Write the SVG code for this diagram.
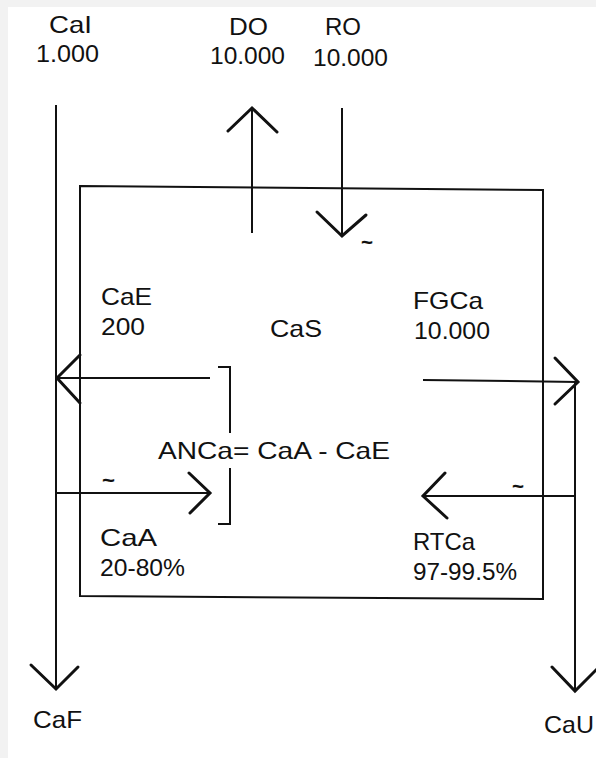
<svg xmlns="http://www.w3.org/2000/svg" width="596" height="758" viewBox="0 0 596 758">
<style>
  .t{font-family:"Liberation Sans","DejaVu Sans",Arial,sans-serif;font-size:24px;fill:#111}
  .ln{stroke:#111;stroke-width:2;fill:none}
  .hd{stroke:#111;stroke-width:3;fill:none;stroke-linecap:round;stroke-linejoin:miter}
  .tl{font-family:"Liberation Sans","DejaVu Sans",Arial,sans-serif;font-size:22px;font-weight:bold;fill:#111}
</style>
<rect x="0" y="0" width="596" height="758" fill="#ffffff"/>
<rect x="0" y="0" width="596" height="7" fill="#f2f2f2"/>
<rect x="0" y="0" width="8" height="758" fill="#f2f2f2"/>

<g id="box">
  <path class="ln" d="M80,186 L543,190 L543,599 L80,596 Z"/>
</g>

<g id="connectors">
  <!-- CaI -> CaF -->
  <line class="ln" x1="56" y1="105" x2="56" y2="689"/>
  <polyline class="hd" points="31,665 56,689 78,667"/>
  <!-- DO up -->
  <line class="ln" x1="252" y1="233" x2="252" y2="108"/>
  <polyline class="hd" points="228,131 252,108 277,132"/>
  <!-- RO down -->
  <line class="ln" x1="342" y1="108" x2="342" y2="236"/>
  <polyline class="hd" points="317,212 342,236 366,215"/>
  <!-- CaE out (left) -->
  <line class="ln" x1="210" y1="378" x2="57" y2="378"/>
  <polyline class="hd" points="80,355 57,378 80,403"/>
  <!-- CaA in (right) -->
  <line class="ln" x1="56" y1="493" x2="210" y2="493"/>
  <polyline class="hd" points="189,473 210,493 190,513"/>
  <!-- FGCa out -->
  <line class="ln" x1="423" y1="380" x2="578" y2="382"/>
  <polyline class="hd" points="555,358 578,382 555,404"/>
  <!-- CaU down -->
  <line class="ln" x1="575" y1="382" x2="575" y2="691"/>
  <polyline class="hd" points="552,667 575,691 599,667"/>
  <!-- RTCa back -->
  <line class="ln" x1="575" y1="496" x2="423" y2="496"/>
  <polyline class="hd" points="445,473 423,496 447,518"/>
  <!-- bracket -->
  <polyline class="ln" points="218,367 230,367 230,433"/>
  <polyline class="ln" points="230,468 230,524 218,524"/>
</g>

<g id="tildes">
  <text class="tl" x="102" y="488" textLength="13" lengthAdjust="spacingAndGlyphs">~</text>
  <text class="tl" x="512" y="494" textLength="12" lengthAdjust="spacingAndGlyphs">~</text>
  <text class="tl" x="361" y="250" textLength="12" lengthAdjust="spacingAndGlyphs">~</text>
</g>

<g id="CaI">
  <text class="t" x="49" y="33" textLength="43" lengthAdjust="spacingAndGlyphs">CaI</text>
  <text class="t" x="36" y="62" textLength="63" lengthAdjust="spacingAndGlyphs">1.000</text>
</g>
<g id="DO">
  <text class="t" x="229" y="35" textLength="39" lengthAdjust="spacingAndGlyphs">DO</text>
  <text class="t" x="210" y="64" textLength="75" lengthAdjust="spacingAndGlyphs">10.000</text>
</g>
<g id="RO">
  <text class="t" x="325" y="35" textLength="36" lengthAdjust="spacingAndGlyphs">RO</text>
  <text class="t" x="313" y="66" textLength="75" lengthAdjust="spacingAndGlyphs">10.000</text>
</g>
<g id="CaE">
  <text class="t" x="101" y="305" textLength="51" lengthAdjust="spacingAndGlyphs">CaE</text>
  <text class="t" x="101" y="335" textLength="44" lengthAdjust="spacingAndGlyphs">200</text>
</g>
<g id="CaS">
  <text class="t" x="270" y="337" textLength="52" lengthAdjust="spacingAndGlyphs">CaS</text>
</g>
<g id="FGCa">
  <text class="t" x="413" y="309" textLength="70" lengthAdjust="spacingAndGlyphs">FGCa</text>
  <text class="t" x="414" y="339" textLength="76" lengthAdjust="spacingAndGlyphs">10.000</text>
</g>
<g id="ANCa">
  <text class="t" x="158" y="459" textLength="232" lengthAdjust="spacingAndGlyphs">ANCa= CaA - CaE</text>
</g>
<g id="CaA">
  <text class="t" x="100" y="546" textLength="57" lengthAdjust="spacingAndGlyphs">CaA</text>
  <text class="t" x="100" y="576" textLength="85" lengthAdjust="spacingAndGlyphs">20-80%</text>
</g>
<g id="RTCa">
  <text class="t" x="413" y="550" textLength="62" lengthAdjust="spacingAndGlyphs">RTCa</text>
  <text class="t" x="413" y="580" textLength="104" lengthAdjust="spacingAndGlyphs">97-99.5%</text>
</g>
<g id="CaF">
  <text class="t" x="33" y="728" textLength="49" lengthAdjust="spacingAndGlyphs">CaF</text>
</g>
<g id="CaU">
  <text class="t" x="544" y="733" textLength="50" lengthAdjust="spacingAndGlyphs">CaU</text>
</g>
</svg>
